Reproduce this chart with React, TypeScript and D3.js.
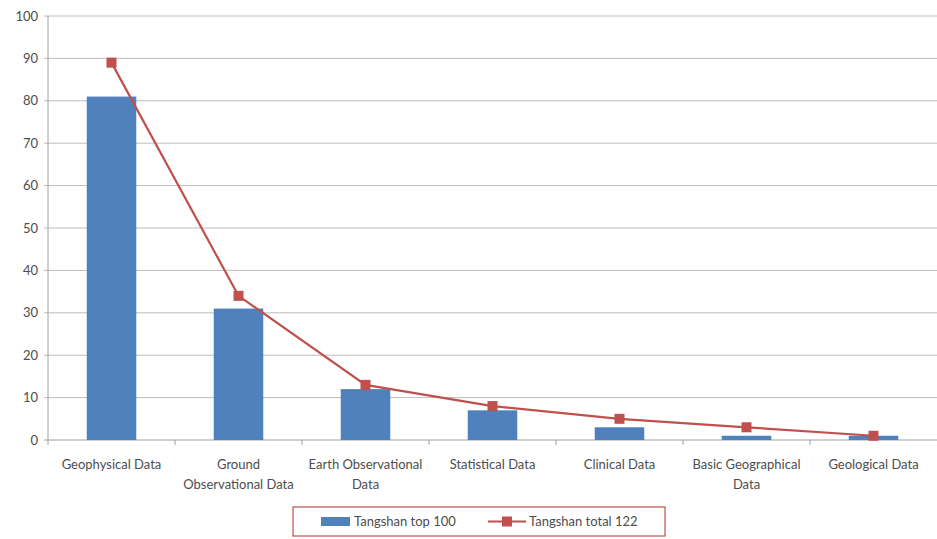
import React from "react";
import * as d3 from "d3";

const categories: string[][] = [
  ["Geophysical Data"],
  ["Ground", "Observational Data"],
  ["Earth Observational", "Data"],
  ["Statistical Data"],
  ["Clinical Data"],
  ["Basic Geographical", "Data"],
  ["Geological Data"],
];
const top100: number[] = [81, 31, 12, 7, 3, 1, 1];
const total122: number[] = [89, 34, 13, 8, 5, 3, 1];
const yTicks: number[] = [0, 10, 20, 30, 40, 50, 60, 70, 80, 90, 100];
const seriesNames = ["Tangshan top 100", "Tangshan total 122"];

const W = 937;
const H = 539;
const left = 48;
const right = 937;
const top = 16;
const bottom = 440;
const font = "Lato, 'Open Sans', sans-serif";
const textColor = "#4d4d4d";
const barColor = "#4F81BD";
const lineColor = "#C0504D";

export default function App() {
  const idx = categories.map((_, i) => String(i));
  const x = d3.scaleBand<string>().domain(idx).range([left, right]).paddingInner(0).paddingOuter(0);
  const y = d3.scaleLinear().domain([0, 100]).range([bottom, top]);
  const bw = x.bandwidth() * 0.39;
  const cx = (i: number) => (x(String(i)) as number) + x.bandwidth() / 2;
  const line = d3
    .line<number>()
    .x((_, i) => cx(i))
    .y((d) => y(d));

  return (
    <svg width={W} height={H} style={{ position: "absolute", left: 0, top: 0, background: "#fff" }}>
      {yTicks.map((t) => (
        <g key={t}>
          <line x1={left - 4} x2={right} y1={y(t)} y2={y(t)} stroke={t === 0 ? "#a0a0a0" : "#bdbdbd"} strokeWidth={1} />
          <text x={left - 10} y={y(t)} dy="0.35em" textAnchor="end" fontFamily={font} fontSize={13} fill={textColor}>
            {t}
          </text>
        </g>
      ))}
      <line x1={left} x2={left} y1={top} y2={bottom} stroke="#a0a0a0" />
      {idx.map((d, i) => (
        <line key={"xt" + i} x1={x(d)} x2={x(d)} y1={bottom} y2={bottom + 5} stroke="#a0a0a0" />
      ))}
      {top100.map((v, i) => (
        <rect key={"b" + i} x={cx(i) - bw / 2} y={y(v)} width={bw} height={bottom - y(v)} fill={barColor} />
      ))}
      <path d={line(total122) || ""} fill="none" stroke={lineColor} strokeWidth={2.2} />
      {total122.map((v, i) => (
        <rect key={"m" + i} x={cx(i) - 5} y={y(v) - 5} width={10} height={10} fill={lineColor} />
      ))}
      {categories.map((lines, i) => (
        <text key={"c" + i} x={cx(i)} y={bottom + 29} textAnchor="middle" fontFamily={font} fontSize={13} fill={textColor}>
          {lines.map((l, j) => (
            <tspan key={j} x={cx(i)} dy={j === 0 ? 0 : 20}>
              {l}
            </tspan>
          ))}
        </text>
      ))}
      <g>
        <rect x={293} y={507} width={372} height={29} fill="#fff" stroke="#c0504d" strokeWidth={1.2} />
        <rect x={321} y={517} width={29} height={9} fill={barColor} />
        <text x={354} y={521.5} dy="0.35em" fontFamily={font} fontSize={13} fill={textColor}>
          {seriesNames[0]}
        </text>
        <line x1={488} x2={526} y1={521.5} y2={521.5} stroke={lineColor} strokeWidth={2.2} />
        <rect x={502} y={516.5} width={10} height={10} fill={lineColor} />
        <text x={529} y={521.5} dy="0.35em" fontFamily={font} fontSize={13} fill={textColor}>
          {seriesNames[1]}
        </text>
      </g>
    </svg>
  );
}
